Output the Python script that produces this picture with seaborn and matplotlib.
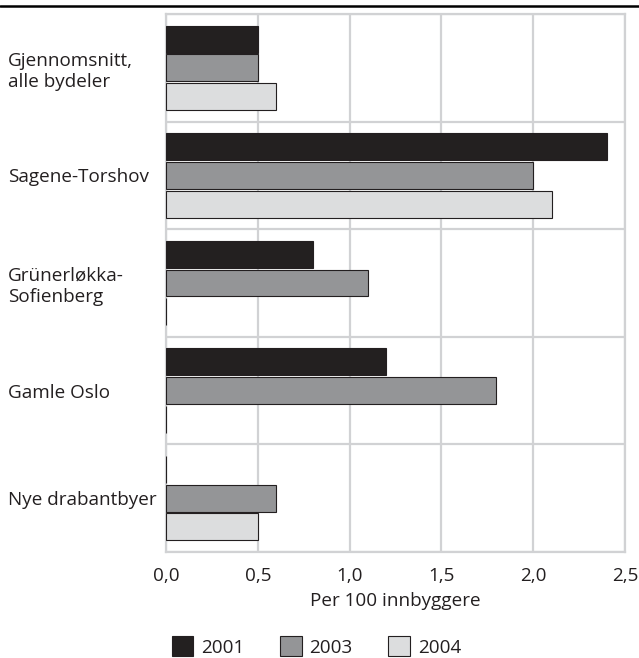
import matplotlib
matplotlib.use("Agg")
import matplotlib.pyplot as plt
import seaborn as sns
import pandas as pd
from matplotlib.lines import Line2D
from matplotlib.ticker import FixedLocator

categories = ["Gjennomsnitt,\nalle bydeler", "Sagene-Torshov", "Grünerløkka-\nSofienberg",
              "Gamle Oslo", "Nye drabantbyer"]
years = ["2001", "2003", "2004"]
v2001 = [0.5, 2.4, 0.8, 1.2, 0.0]
v2003 = [0.5, 2.0, 1.1, 1.8, 0.6]
v2004 = [0.6, 2.1, 0.0, 0.0, 0.5]
colors = ["#231f20", "#939598", "#dcddde"]
xticks = [0.0, 0.5, 1.0, 1.5, 2.0, 2.5]
xticklabels = ["0,0", "0,5", "1,0", "1,5", "2,0", "2,5"]
xlabel = "Per 100 innbyggere"

rows = []
for yr, vals in zip(years, [v2001, v2003, v2004]):
    for c, v in zip(categories, vals):
        rows.append({"cat": c, "year": yr, "val": v})
df = pd.DataFrame(rows)

sns.set_style("white")
plt.rcParams["font.family"] = ["Open Sans", "DejaVu Sans"]
FS = 13.6
TXT = "#231f20"

fig = plt.figure(figsize=(6.39, 6.58), dpi=100)
ax = fig.add_axes([166/639, 1 - 552/658, (625-166)/639, (552-14)/658])

grid_c = "#d1d2d4"
sns.barplot(data=df, y="cat", x="val", hue="year", order=categories, hue_order=years,
            palette=colors, orient="h", width=0.8, gap=0.06,
            edgecolor="#231f20", linewidth=0.8, ax=ax, legend=True)
for p in ax.patches:
    p.set_zorder(3)

ax.set_xlim(0, 2.5)
ax.set_ylim(4.5, -0.5)
ax.set_xticks(xticks)
ax.set_xticklabels(xticklabels, fontsize=FS, color=TXT)
ax.yaxis.set_minor_locator(FixedLocator([-0.5, 0.5, 1.5, 2.5, 3.5, 4.5]))
ax.set_axisbelow(True)
ax.grid(True, axis="x", which="major", color=grid_c, linewidth=1.6)
ax.grid(True, axis="y", which="minor", color=grid_c, linewidth=1.6)
ax.grid(False, axis="y", which="major")
for s in ax.spines.values():
    s.set_visible(True)
    s.set_color(grid_c)
    s.set_linewidth(1.6)
    s.set_zorder(1.5)
ax.tick_params(axis="both", which="both", length=0)
ax.tick_params(axis="x", pad=11)
ax.tick_params(axis="y", pad=114)
for lab in ax.get_yticklabels():
    lab.set_horizontalalignment("left")
    lab.set_fontsize(FS)
    lab.set_color(TXT)
ax.set_ylabel("")
ax.set_xlabel(xlabel, fontsize=FS, color=TXT, labelpad=5)

handles, labels = ax.get_legend_handles_labels()
ax.legend_.remove()
fig.legend(handles, labels, loc="lower center", bbox_to_anchor=(0.495, -0.024), ncol=3,
           frameon=False, fontsize=FS, handlelength=1.15, handleheight=1.25,
           handletextpad=0.4, columnspacing=1.9, labelcolor=TXT)

fig.add_artist(Line2D([0, 1], [1 - 6/658, 1 - 6/658], transform=fig.transFigure,
                      color="black", linewidth=1.8))

fig.savefig("out.png", dpi=100)
